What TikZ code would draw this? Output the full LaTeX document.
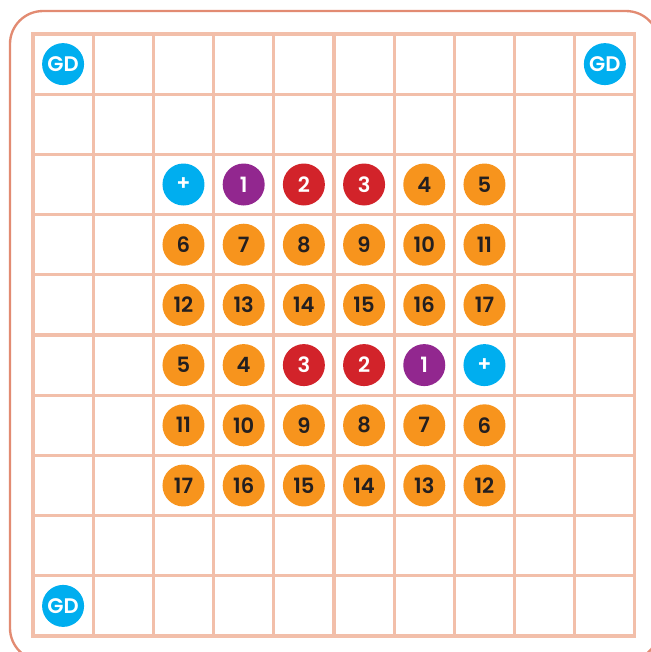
\documentclass[tikz,border=0pt]{standalone}
\usepackage{fontspec}
\setmainfont{Poppins}[BoldFont={Poppins SemiBold}]
\definecolor{gridline}{HTML}{F2BFAA}
\definecolor{frameline}{HTML}{E28B72}
\definecolor{dotcyan}{HTML}{00AEEF}
\definecolor{dotpurple}{HTML}{92278F}
\definecolor{dotred}{HTML}{D2232A}
\definecolor{dotorange}{HTML}{F7941D}
\definecolor{darktext}{HTML}{231F20}
\begin{document}
\begin{tikzpicture}[
    x=1.806cm, y=-1.806cm,
    dot/.style={circle, minimum size=1.26cm, inner sep=0pt,
                font=\fontsize{18}{18}\selectfont\bfseries},
    gd/.style={dot, fill=dotcyan, text=white},
    plus/.style={dot, fill=dotcyan, text=white},
    first/.style={dot, fill=dotpurple, text=white},
    hot/.style={dot, fill=dotred, text=white},
    warm/.style={dot, fill=dotorange, text=darktext},
]
\useasboundingbox (-0.548,-0.565) rectangle (10.266,10.266);

% Outer frame (runs past the page edge on the right and bottom)
\draw[frameline, line width=2pt, rounded corners=0.99cm]
      (-0.382,-0.382) rectangle (10.399,10.415);

% Board
\foreach \k in {0,...,10} {
  \draw[gridline, line width=2.6pt, line cap=rect] (\k,0) -- (\k,10);
  \draw[gridline, line width=2.6pt, line cap=rect] (0,\k) -- (10,\k);
}

% Corner markers
\node[gd] (gdA) at (0.5,0.5) {GD};
\node[gd] (gdB) at (9.5,0.5) {GD};
\node[gd] (gdC) at (0.5,9.5) {GD};

% Upper block
\node[plus]  (u20) at (2.5,2.5) {+};
\node[first] (u21) at (3.5,2.5) {1};
\node[hot]   (u22) at (4.5,2.5) {2};
\node[hot]   (u23) at (5.5,2.5) {3};
\node[warm]  (u24) at (6.5,2.5) {4};
\node[warm]  (u25) at (7.5,2.5) {5};
\foreach \n [count=\i from 0] in {6,...,11}
  \node[warm] (u3\i) at (2.5+\i,3.5) {\n};
\foreach \n [count=\i from 0] in {12,...,17}
  \node[warm] (u4\i) at (2.5+\i,4.5) {\n};

% Lower block (mirrored)
\node[warm]  (l50) at (2.5,5.5) {5};
\node[warm]  (l51) at (3.5,5.5) {4};
\node[hot]   (l52) at (4.5,5.5) {3};
\node[hot]   (l53) at (5.5,5.5) {2};
\node[first] (l54) at (6.5,5.5) {1};
\node[plus]  (l55) at (7.5,5.5) {+};
\foreach \n [count=\i from 0] in {11,10,...,6}
  \node[warm] (l6\i) at (2.5+\i,6.5) {\n};
\foreach \n [count=\i from 0] in {17,16,...,12}
  \node[warm] (l7\i) at (2.5+\i,7.5) {\n};

\end{tikzpicture}
\end{document}
